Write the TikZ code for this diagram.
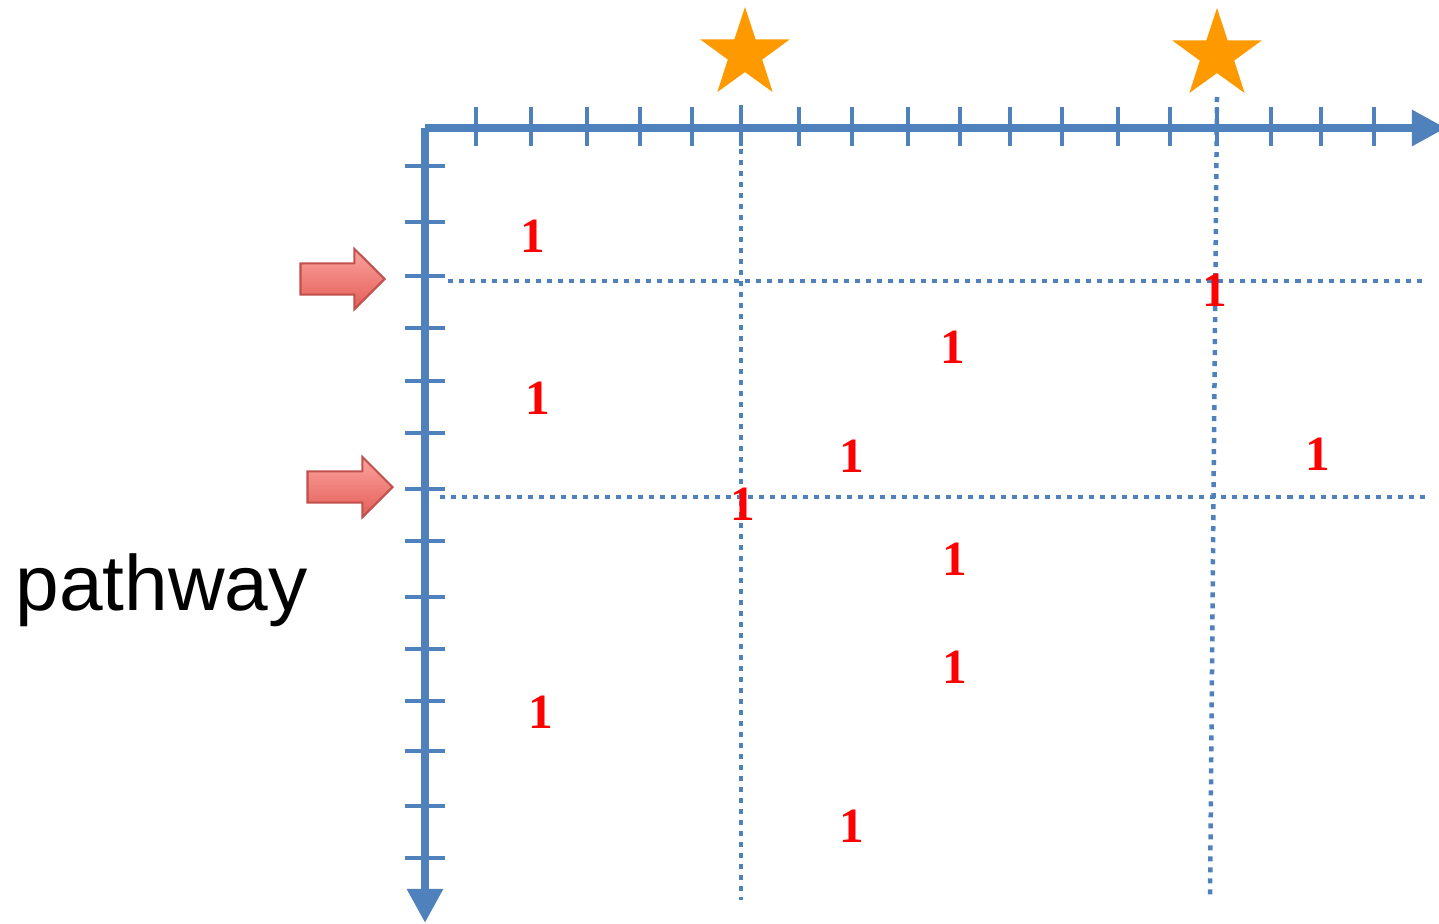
\documentclass[tikz,border=0pt]{standalone}
\usepackage{fontspec}
\setmainfont{Liberation Serif}
\newfontfamily\labelfont{Liberation Sans}
\usetikzlibrary{
  arrows.meta,
  calc,
  positioning,
  shapes.geometric,
  shapes.arrows
}
\definecolor{axisblue}{HTML}{4F81BD}
\definecolor{starorange}{HTML}{FF9900}
\definecolor{ptrborder}{HTML}{C0504D}
\definecolor{ptrlight}{HTML}{FBA39D}
\definecolor{ptrdark}{HTML}{E45E58}

\begin{document}
\begin{tikzpicture}[x=0.01cm,y=-0.01cm,
  axis/.style={axisblue,line width=0.085cm,-{Triangle[length=0.34cm,width=0.34cm]}},
  tick/.style={axisblue,line width=0.045cm},
  guide/.style={axisblue,line width=0.045cm,dash pattern=on 0.05cm off 0.06cm},
  one/.style={text=red,font=\bfseries\fontsize{14pt}{14pt}\selectfont,anchor=base,inner sep=0pt},
  mark star/.style={star,star points=5,star point ratio=2.6,fill=starorange,
    minimum size=0.94cm,inner sep=0pt},
  pointer/.style={single arrow,draw=ptrborder,line width=0.6pt,top color=ptrlight,
    bottom color=ptrdark,inner xsep=0pt,inner ysep=0.145cm,
    single arrow head indent=0pt,single arrow head extend=0.145cm,anchor=tip}
]
  \useasboundingbox (0,0) rectangle (1439,924);

  % dotted guides
  \draw[guide] (741,105) -- (741,900);
  \draw[guide] (1217,97) -- (1210,900);
  \draw[guide] (448,281) -- (1425,281);
  \draw[guide] (440,497) -- (1425,497);

  % ticks
  \foreach \x in {476,531,587,640,692,741,799,852,908,960,1010,1062,1118,1170,1217,1271,1321,1374}
    \draw[tick] (\x,107) -- (\x,146);
  \foreach \y in {166,222,276,328,381,433,489,541,597,649,701,751,806,858}
    \draw[tick] (405,\y) -- (445,\y);

  % axes
  \coordinate (origin) at (425,128);
  \coordinate (xend) at (1446,128);
  \coordinate (yend) at (425,923);
  \draw[axis] (origin) -- (xend);
  \draw[axis] (origin) -- (yend);

  % stars and pointers
  \node[mark star] (starA) at (745,54) {};
  \node[mark star] (starB) at (1217,55) {};
  \node[pointer,minimum height=0.84cm] (ptrA) at (386,279) {};
  \node[pointer,minimum height=0.85cm] (ptrB) at (394,487) {};

  \node[anchor=base west,inner sep=0pt,font=\labelfont\fontsize{22.3pt}{22.3pt}\selectfont] (lbl) at (15,610) {pathway};

  % entries
  \node[one] (o1) at (533,252) {1};
  \node[one] (o2) at (538,414) {1};
  \node[one] (o3) at (953,363) {1};
  \node[one] (o4) at (1215,306) {1};
  \node[one] (o5) at (852,472) {1};
  \node[one] (o6) at (1318,470) {1};
  \node[one] (o7) at (743,520) {1};
  \node[one] (o8) at (955,575) {1};
  \node[one] (o9) at (955,683) {1};
  \node[one] (o10) at (541,728) {1};
  \node[one] (o11) at (852,842) {1};
\end{tikzpicture}
\end{document}
